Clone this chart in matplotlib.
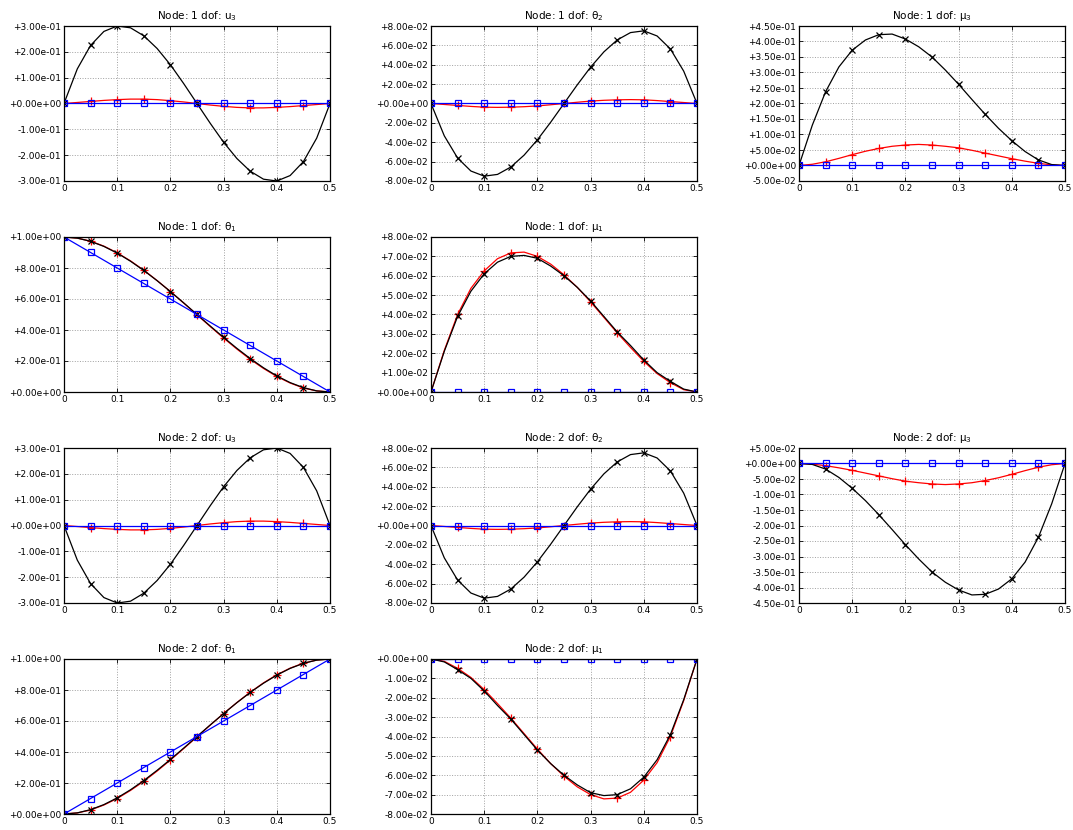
import numpy as np
import matplotlib
matplotlib.use("Agg")
import matplotlib.pyplot as plt

plt.rcParams['font.family'] = ['DejaVu Sans']
plt.rcParams['mathtext.default'] = 'regular'

# sample positions along the element (0.025 step, markers every 0.05)
x = np.linspace(0.0, 0.5, 21)

zeros = [0.0] * 21

# node 1
n1_u3_black = [0, 0.134, 0.225, 0.279, 0.300, 0.293, 0.262, 0.213, 0.150, 0.077, 0,
               -0.077, -0.150, -0.213, -0.262, -0.293, -0.300, -0.279, -0.225, -0.134, 0]
n1_u3_red = [0, 0.004, 0.008, 0.012, 0.015, 0.017, 0.017, 0.015, 0.011, 0.006, 0,
             -0.006, -0.011, -0.015, -0.017, -0.017, -0.015, -0.012, -0.008, -0.004, 0]

n1_t2_black = [0, -0.0334, -0.0563, -0.0697, -0.0750, -0.0732, -0.0656, -0.0533, -0.0375, -0.0193, 0,
               0.0193, 0.0375, 0.0533, 0.0656, 0.0732, 0.0750, 0.0697, 0.0563, 0.0334, 0]
n1_t2_red = [0, -0.001, -0.002, -0.003, -0.0038, -0.004, -0.0038, -0.0033, -0.0025, -0.0013, 0,
             0.0013, 0.0025, 0.0033, 0.0038, 0.004, 0.0038, 0.003, 0.002, 0.001, 0]

n1_m3_black = [0, 0.130, 0.238, 0.318, 0.372, 0.405, 0.422, 0.424, 0.408, 0.383, 0.350,
               0.308, 0.262, 0.213, 0.165, 0.120, 0.080, 0.045, 0.018, 0.003, 0]
n1_m3_red = [0, 0.004, 0.012, 0.023, 0.035, 0.046, 0.055, 0.062, 0.066, 0.068, 0.066,
             0.062, 0.057, 0.049, 0.040, 0.031, 0.022, 0.014, 0.007, 0.002, 0]

n1_t1_black = [1, 0.9928, 0.972, 0.9393, 0.896, 0.8438, 0.784, 0.7183, 0.648, 0.5748, 0.5,
               0.4252, 0.352, 0.2817, 0.216, 0.1562, 0.104, 0.0607, 0.028, 0.0072, 0]
n1_t1_red = [1, 0.993, 0.973, 0.941, 0.898, 0.846, 0.786, 0.719, 0.648, 0.574, 0.498,
             0.422, 0.348, 0.277, 0.211, 0.152, 0.100, 0.058, 0.026, 0.007, 0]
n1_t1_blue = [1.0, 0.95, 0.9, 0.85, 0.8, 0.75, 0.7, 0.65, 0.6, 0.55, 0.5,
              0.45, 0.4, 0.35, 0.3, 0.25, 0.2, 0.15, 0.1, 0.05, 0.0]

n1_m1_black = [0, 0.021, 0.039, 0.052, 0.061, 0.067, 0.070, 0.0705, 0.069, 0.065, 0.060,
               0.054, 0.047, 0.039, 0.031, 0.024, 0.0165, 0.010, 0.0055, 0.0015, 0]
n1_m1_red = [0, 0.0215, 0.040, 0.0535, 0.0625, 0.0688, 0.0718, 0.0722, 0.070, 0.066, 0.0605,
             0.054, 0.0465, 0.0385, 0.0305, 0.023, 0.0158, 0.0095, 0.0048, 0.0012, 0]

# node 2
n2_u3_black = [0, -0.134, -0.225, -0.279, -0.300, -0.293, -0.262, -0.213, -0.150, -0.077, 0,
               0.077, 0.150, 0.213, 0.262, 0.293, 0.300, 0.279, 0.225, 0.134, 0]
n2_u3_red = [0, -0.004, -0.008, -0.012, -0.015, -0.017, -0.017, -0.015, -0.011, -0.006, 0,
             0.006, 0.011, 0.015, 0.017, 0.017, 0.015, 0.012, 0.008, 0.004, 0]

n2_t2_black = [0, -0.0334, -0.0563, -0.0697, -0.0750, -0.0732, -0.0656, -0.0533, -0.0375, -0.0193, 0,
               0.0193, 0.0375, 0.0533, 0.0656, 0.0732, 0.0750, 0.0697, 0.0563, 0.0334, 0]
n2_t2_red = [0, -0.001, -0.002, -0.003, -0.0038, -0.004, -0.0038, -0.0033, -0.0025, -0.0013, 0,
             0.0013, 0.0025, 0.0033, 0.0038, 0.004, 0.0038, 0.003, 0.002, 0.001, 0]

n2_m3_black = [0, -0.003, -0.018, -0.045, -0.080, -0.120, -0.165, -0.213, -0.262, -0.308, -0.350,
               -0.383, -0.408, -0.424, -0.422, -0.405, -0.372, -0.318, -0.238, -0.130, 0]
n2_m3_red = [0, -0.002, -0.007, -0.014, -0.022, -0.031, -0.040, -0.049, -0.057, -0.062, -0.066,
             -0.068, -0.066, -0.062, -0.055, -0.046, -0.035, -0.023, -0.012, -0.004, 0]

n2_t1_black = [0, 0.0072, 0.028, 0.0607, 0.104, 0.1562, 0.216, 0.2817, 0.352, 0.4252, 0.5,
               0.5748, 0.648, 0.7183, 0.784, 0.8438, 0.896, 0.9393, 0.972, 0.9928, 1]
n2_t1_red = [0, 0.007, 0.026, 0.058, 0.100, 0.152, 0.211, 0.277, 0.348, 0.422, 0.498,
             0.574, 0.648, 0.719, 0.786, 0.846, 0.898, 0.941, 0.973, 0.993, 1]
n2_t1_blue = [0.0, 0.05, 0.1, 0.15, 0.2, 0.25, 0.3, 0.35, 0.4, 0.45, 0.5,
              0.55, 0.6, 0.65, 0.7, 0.75, 0.8, 0.85, 0.9, 0.95, 1.0]

n2_m1_black = [0, -0.0015, -0.0055, -0.010, -0.0165, -0.024, -0.031, -0.039, -0.047, -0.054, -0.060,
               -0.065, -0.069, -0.0705, -0.070, -0.067, -0.061, -0.052, -0.039, -0.021, 0]
n2_m1_red = [0, -0.0012, -0.0048, -0.0095, -0.0158, -0.023, -0.0305, -0.0385, -0.0465, -0.054, -0.0605,
             -0.066, -0.070, -0.0722, -0.0718, -0.0688, -0.0625, -0.0535, -0.040, -0.0215, 0]

x_ticks = [0, 0.1, 0.2, 0.3, 0.4, 0.5]
x_labels = ['0', '0.1', '0.2', '0.3', '0.4', '0.5']

# (row, col, title, black, red, blue, ymin, ymax, ystep)
panels = [
    (0, 0, 'Node: 1 dof: u$_3$', n1_u3_black, n1_u3_red, zeros, -0.3, 0.3, 0.1),
    (0, 1, 'Node: 1 dof: \u03b8$_2$', n1_t2_black, n1_t2_red, zeros, -0.08, 0.08, 0.02),
    (0, 2, 'Node: 1 dof: \u03bc$_3$', n1_m3_black, n1_m3_red, zeros, -0.05, 0.45, 0.05),
    (1, 0, 'Node: 1 dof: \u03b8$_1$', n1_t1_black, n1_t1_red, n1_t1_blue, 0.0, 1.0, 0.2),
    (1, 1, 'Node: 1 dof: \u03bc$_1$', n1_m1_black, n1_m1_red, zeros, 0.0, 0.08, 0.01),
    (2, 0, 'Node: 2 dof: u$_3$', n2_u3_black, n2_u3_red, zeros, -0.3, 0.3, 0.1),
    (2, 1, 'Node: 2 dof: \u03b8$_2$', n2_t2_black, n2_t2_red, zeros, -0.08, 0.08, 0.02),
    (2, 2, 'Node: 2 dof: \u03bc$_3$', n2_m3_black, n2_m3_red, zeros, -0.45, 0.05, 0.05),
    (3, 0, 'Node: 2 dof: \u03b8$_1$', n2_t1_black, n2_t1_red, n2_t1_blue, 0.0, 1.0, 0.2),
    (3, 1, 'Node: 2 dof: \u03bc$_1$', n2_m1_black, n2_m1_red, zeros, -0.08, 0.0, 0.01),
]

W, H = 1073, 830
col_left = [64, 431, 799]
row_top = [26, 237, 448, 659]
ax_w, ax_h = 266, 155


def fmt(v):
    v = round(v, 6) + 0.0
    if v == 0:
        v = 0.0
    return f'{v:+.2e}'


fig = plt.figure(figsize=(W / 100, H / 100), dpi=100)

for row, col, title, black, red, blue, ymin, ymax, ystep in panels:
    left = col_left[col] / W
    bottom = 1 - (row_top[row] + ax_h) / H
    ax = fig.add_axes([left, bottom, ax_w / W, ax_h / H])

    ax.plot(x, red, color='#ff0000', lw=0.9, marker='+', ms=6, mew=0.9, markevery=2)
    ax.plot(x, black, color='black', lw=0.9, marker='x', ms=5, mew=0.9, markevery=2)
    ax.plot(x, blue, color='#0000ff', lw=0.9, marker='s', ms=5, mfc='none', mew=0.9, markevery=2)

    n = int(round((ymax - ymin) / ystep))
    yt = [ymin + i * ystep for i in range(n + 1)]
    ax.set_yticks(yt)
    ax.set_yticklabels([fmt(v) for v in yt])
    ax.set_xticks(x_ticks)
    ax.set_xticklabels(x_labels)
    ax.set_xlim(0, 0.5)
    ax.set_ylim(ymin, ymax)

    ax.grid(True, color='#a0a0a0', linestyle=':', linewidth=0.7)
    ax.tick_params(direction='in', top=True, right=True, length=3, width=0.6,
                   labelsize=6.5, pad=2, colors='black')
    for s in ax.spines.values():
        s.set_linewidth(0.9)
    ax.set_title(title, fontsize=7.5, pad=5)

fig.savefig('out.png', dpi=100)
